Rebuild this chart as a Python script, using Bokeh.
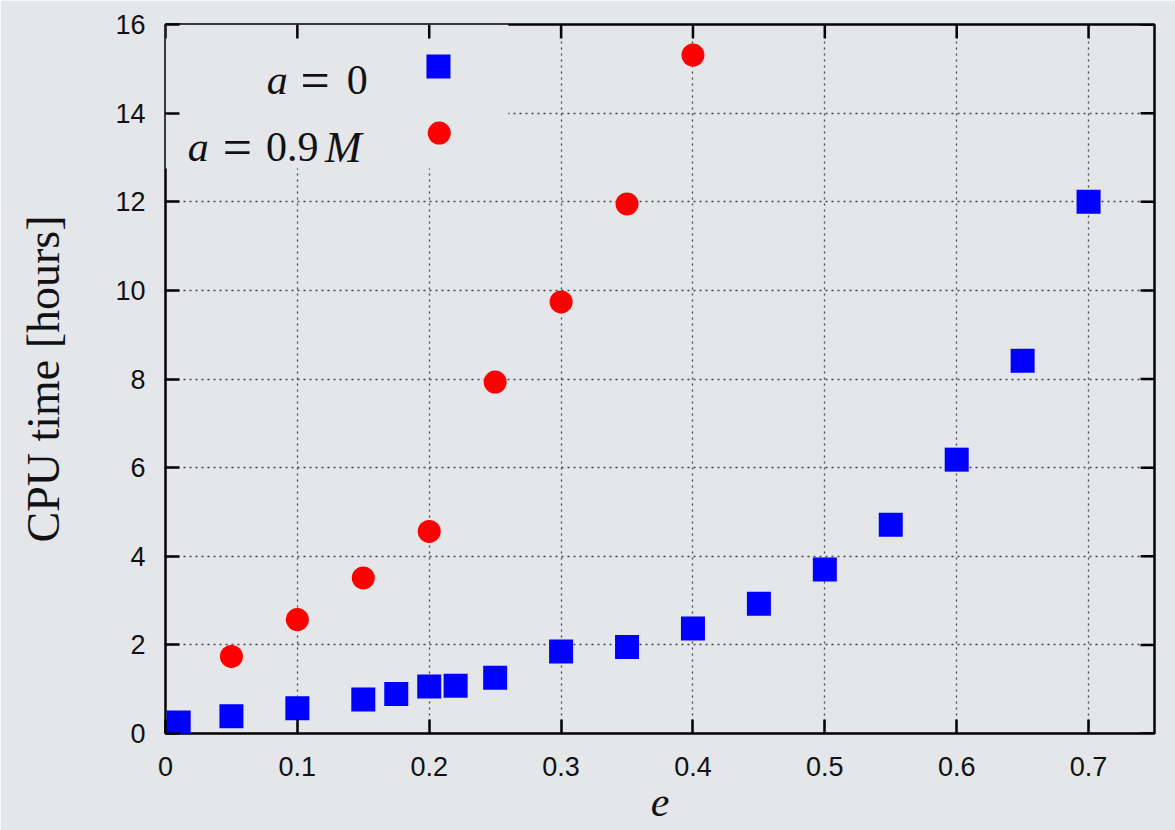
import math
from bokeh.plotting import figure
from bokeh.models import ColumnDataSource, FixedTicker, BoxAnnotation, Range1d
from bokeh.core.properties import value
from bokeh.embed import file_html
from bokeh.resources import INLINE

# ---- data ----
e_a0 = [0.01, 0.05, 0.1, 0.15, 0.175, 0.2, 0.22, 0.25, 0.3, 0.35, 0.4, 0.45, 0.5, 0.55, 0.6, 0.65, 0.7]
cpu_a0 = [0.25, 0.39, 0.57, 0.77, 0.89, 1.06, 1.08, 1.26, 1.85, 1.95, 2.37, 2.93, 3.70, 4.71, 6.18, 8.41, 12.0]
e_a09 = [0.05, 0.1, 0.15, 0.2, 0.25, 0.3, 0.35, 0.4]
cpu_a09 = [1.74, 2.57, 3.51, 4.56, 7.93, 9.74, 11.95, 15.31]
x_ticks = [0, 0.1, 0.2, 0.3, 0.4, 0.5, 0.6, 0.7]
x_tick_labels = ["0", "0.1", "0.2", "0.3", "0.4", "0.5", "0.6", "0.7"]
y_ticks = [0, 2, 4, 6, 8, 10, 12, 14, 16]

X_MAX = 0.75
Y_MAX = 16
BG = "#e4e6e9"
TICK_FONT = "Liberation Sans"
SERIF = "Liberation Serif"

p = figure(width=1175, height=830, output_backend="svg", toolbar_location=None,
           x_range=Range1d(0, X_MAX), y_range=Range1d(0, Y_MAX),
           min_border_left=165, min_border_right=21, min_border_top=24, min_border_bottom=97)
p.background_fill_color = BG
p.border_fill_color = BG
p.outline_line_color = "black"
p.outline_line_width = 2.5

for ax in (p.xaxis[0], p.yaxis[0]):
    ax.major_tick_in = 14
    ax.major_tick_out = 0
    ax.minor_tick_line_color = None
    ax.major_tick_line_width = 2.5
    ax.major_tick_line_color = "black"
    ax.axis_line_color = None
    ax.major_label_text_font = TICK_FONT
    ax.major_label_text_font_size = "27px"
    ax.major_label_text_color = "#111111"
    ax.axis_label_text_font = SERIF
    ax.axis_label_text_font_style = "normal"
    ax.axis_label_text_color = "#111111"

p.xaxis[0].ticker = FixedTicker(ticks=x_ticks)
p.xaxis[0].major_label_overrides = {t: l for t, l in zip(x_ticks, x_tick_labels)}
p.xaxis[0].major_label_standoff = 23
p.xaxis[0].axis_label = "e"
p.xaxis[0].axis_label_text_font_style = "italic"
p.xaxis[0].axis_label_text_font_size = "42px"
p.xaxis[0].axis_label_standoff = 9

p.yaxis[0].ticker = FixedTicker(ticks=y_ticks)
p.yaxis[0].major_label_standoff = 20
p.yaxis[0].axis_label = "CPU time [hours]"
p.yaxis[0].axis_label_text_font_size = "46px"
p.yaxis[0].axis_label_standoff = 43

# mirrored inward ticks on top and right edges
p.ray(x=x_ticks, y=[Y_MAX] * len(x_ticks), length=14, length_units="screen",
      angle=-math.pi / 2, line_color="black", line_width=2.5)
p.ray(x=[X_MAX] * len(y_ticks), y=y_ticks, length=14, length_units="screen",
      angle=math.pi, line_color="black", line_width=2.5)

# grid
p.xgrid.ticker = FixedTicker(ticks=x_ticks[1:])
p.ygrid.ticker = FixedTicker(ticks=y_ticks[1:-1])
for g in (p.xgrid[0], p.ygrid[0]):
    g.grid_line_color = "#333333"
    g.grid_line_dash = "2 4"
    g.grid_line_width = 1.3
    g.grid_line_alpha = 0.9

# legend background hides grid
legend_bg = BoxAnnotation(left=0, right=0.26, bottom=12.75, top=Y_MAX, fill_color=BG, fill_alpha=1,
                          line_color=None, level="underlay")
p.add_layout(legend_bg)

src0 = ColumnDataSource(dict(e=e_a0, t=cpu_a0))
src1 = ColumnDataSource(dict(e=e_a09, t=cpu_a09))
p.scatter("e", "t", source=src0, marker="square", size=24, fill_color="#0000ff", line_color=None)
p.scatter("e", "t", source=src1, marker="circle", size=23, fill_color="#ff0000", line_color=None)

# ---- gnuplot-style legend (label left of key) ----
p.scatter(x=[0.207], y=[15.05], marker="square", size=24, fill_color="#0000ff", line_color=None)
p.scatter(x=[0.2076], y=[13.55], marker="circle", size=23, fill_color="#ff0000", line_color=None)

def piece(x, y, txt, dx, style, size="40px"):
    p.text(x=[x], y=[y], text=[txt], x_offset=dx, text_align="center", text_baseline="alphabetic",
           text_font=value(SERIF), text_font_size=size, text_font_style=style, text_color="#111111")

# "a = 0"
piece(0.153, 14.74, "a", -90, "italic", "42px")
piece(0.153, 14.74, "=", -52, "normal", "52px")
piece(0.153, 14.74, "0", -10, "normal", "42px")
# "a = 0.9M"
piece(0.150, 13.23, "a", -165, "italic", "42px")
piece(0.150, 13.23, "=", -126, "normal", "52px")
piece(0.150, 13.23, "0.9", -71, "normal", "42px")
piece(0.150, 13.23, "M", -20, "italic", "44px")

open("out.html", "w").write(file_html(p, INLINE))
